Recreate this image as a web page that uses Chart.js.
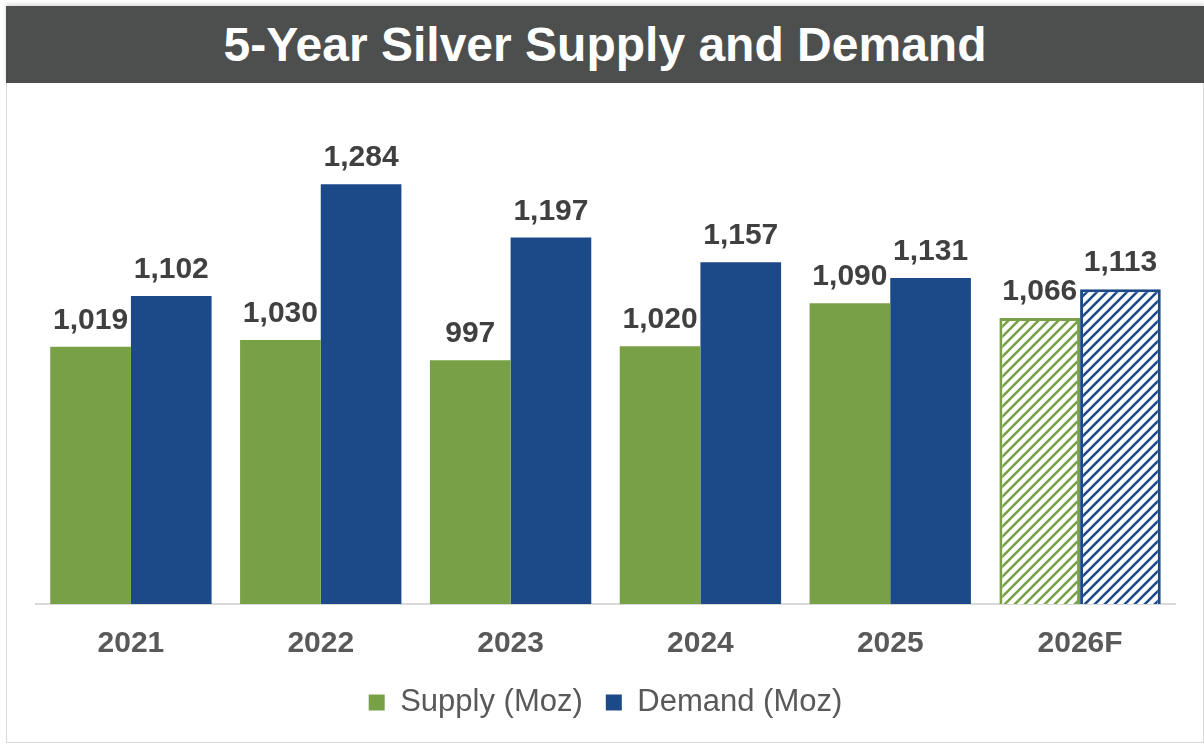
<!DOCTYPE html>
<html>
<head>
<meta charset="utf-8">
<title>5-Year Silver Supply and Demand</title>
<script src="https://cdn.jsdelivr.net/npm/chart.js@4.4.1/dist/chart.umd.min.js"></script>
<style>
  html, body { margin: 0; padding: 0; background: #fff; }
  body { width: 1204px; height: 744px; position: relative; overflow: hidden; font-family: "Liberation Sans", Arial, sans-serif; }
  #frame {
    position: absolute; left: 6px; top: 6px; width: 1198px; height: 737px;
    border: 1px solid #d9d9d9; box-sizing: border-box;
  }
  #title {
    position: absolute; left: 6px; top: 6px; width: 1198px; height: 77px;
    background: #4d4f4e; color: #fff; font-weight: bold; font-size: 48px;
    line-height: 77px; text-align: center;
    box-shadow: 0 -2px 4px rgba(0,0,0,0.15);
  }
  #wrap { position: absolute; left: 6px; top: 83px; width: 1197px; height: 660px; }
</style>
</head>
<body>
<div id="frame"></div>
<div id="title">5-Year Silver Supply and Demand</div>
<div id="wrap"><canvas id="silverChart"></canvas></div>
<script>
// Years and values in million ounces (last year is a forecast)
const years = ['2021', '2022', '2023', '2024', '2025', '2026F'];
const supply = [1019, 1030, 997, 1020, 1090, 1066];
const demand = [1102, 1284, 1197, 1157, 1131, 1113];
const forecastIndex = 5;

const green = '#77a047';
const blue = '#1c4a89';

// Diagonal stripe pattern used for the forecast bars
function makeHatch(color) {
    const size = 10;
    const c = document.createElement('canvas');
    c.width = size;
    c.height = size;
    const g = c.getContext('2d');
    g.fillStyle = '#fff';
    g.fillRect(0, 0, size, size);
    g.strokeStyle = color;
    g.lineWidth = 2.6;
    g.beginPath();
    g.moveTo(-2, size + 2); g.lineTo(size + 2, -2);
    g.moveTo(-2, 2); g.lineTo(2, -2);
    g.moveTo(size - 2, size + 2); g.lineTo(size + 2, size - 2);
    g.stroke();
    return g.createPattern(c, 'repeat');
}

function barFill(color) {
    const hatch = makeHatch(color);
    return years.map((y, i) => i === forecastIndex ? hatch : color);
}

function barBorder(values) {
    return values.map((v, i) => i === forecastIndex ? 3 : 0);
}

// Value labels above each bar
const valueLabels = {
    id: 'valueLabels',
    afterDatasetsDraw(chart) {
        const ctx = chart.ctx;
        ctx.save();
        ctx.font = 'bold 30px "Liberation Sans", Arial, sans-serif';
        ctx.fillStyle = '#404040';
        ctx.textAlign = 'center';
        ctx.textBaseline = 'alphabetic';
        chart.data.datasets.forEach((ds, di) => {
            chart.getDatasetMeta(di).data.forEach((bar, i) => {
                ctx.fillText(ds.data[i].toLocaleString('en-US'), bar.x, bar.y - 18);
            });
        });
        ctx.restore();
    }
};

const ctx = document.getElementById('silverChart').getContext('2d');
new Chart(ctx, {
    type: 'bar',
    data: {
        labels: years,
        datasets: [
            {
                label: 'Supply (Moz)',
                data: supply,
                backgroundColor: barFill(green),
                borderColor: green,
                borderWidth: barBorder(supply),
                borderSkipped: false
            },
            {
                label: 'Demand (Moz)',
                data: demand,
                backgroundColor: barFill(blue),
                borderColor: blue,
                borderWidth: barBorder(demand),
                borderSkipped: false
            }
        ]
    },
    options: {
        responsive: true,
        maintainAspectRatio: false,
        animation: false,
        datasets: {
            bar: { categoryPercentage: 0.85, barPercentage: 1.0 }
        },
        layout: {
            padding: { left: 30, right: 28, top: 30, bottom: 15 }
        },
        scales: {
            x: {
                grid: { display: false, drawTicks: false },
                border: { display: true, color: '#d9d9d9', width: 2 },
                ticks: {
                    padding: 22,
                    color: '#595959',
                    font: { family: '"Liberation Sans", Arial, sans-serif', size: 30, weight: 'bold' }
                },
                // fixed axis height so the year labels sit close under the bars
                afterFit(scale) {
                    scale.height = 60;
                }
            },
            y: {
                display: false,
                min: 600,
                max: 1400
            }
        },
        plugins: {
            legend: {
                position: 'bottom',
                labels: {
                    boxWidth: 16,
                    boxHeight: 16,
                    padding: 23,
                    color: '#595959',
                    font: { family: '"Liberation Sans", Arial, sans-serif', size: 31 },
                    generateLabels(chart) {
                        return chart.data.datasets.map((ds, i) => ({
                            text: ds.label,
                            fillStyle: ds.borderColor,
                            strokeStyle: ds.borderColor,
                            lineWidth: 0,
                            fontColor: '#595959',
                            datasetIndex: i
                        }));
                    }
                }
            },
            tooltip: { enabled: false }
        }
    },
    plugins: [valueLabels]
});
</script>
</body>
</html>
